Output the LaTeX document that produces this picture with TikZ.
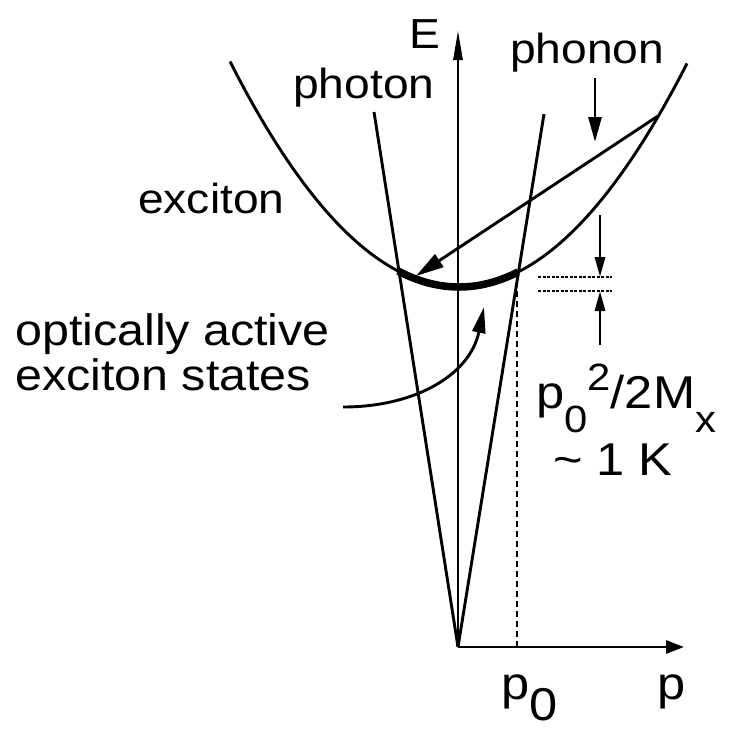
\documentclass[tikz,border=0pt]{standalone}
\usepackage{fontspec}
\setmainfont[FakeStretch=1.1]{Liberation Sans}
\usetikzlibrary{arrows.meta}
\newcommand{\lowpart}[2]{\raisebox{#1}{\fontsize{38}{38}\selectfont #2}}
\begin{document}
\begin{tikzpicture}[x=1pt,y=-1pt,
  ln/.style={line width=2.9pt},
  thin dashed/.style={line width=2.4pt, dash pattern=on 6pt off 4pt},
  fine dashed/.style={line width=2.4pt, dash pattern=on 3pt off 1.5pt},
  axhead/.style={-{Triangle[length=30pt,width=9pt]}},
  phead/.style={-{Triangle[length=18pt,width=13pt]}},
  bighead/.style={-{Triangle[length=28pt,width=15pt]}},
  smallhead/.style={-{Triangle[length=20pt,width=10pt]}},
  lbl/.style={inner sep=0pt, font=\fontsize{42}{45}\selectfont},
]
\useasboundingbox (0,0) rectangle (732,734);

% axes
\coordinate (O) at (458,647);
\coordinate (Etop) at (458,30);
\coordinate (ptip) at (684,647);
\draw[ln,axhead] (O) -- (Etop);
\draw[ln,phead] (O) -- (ptip);

% photon lines
\coordinate (phL) at (374,112);
\coordinate (phR) at (544,114);
\draw[ln] (O) -- (phL);
\draw[ln] (O) -- (phR);

% exciton parabola
\draw[ln] plot[domain=230:687,samples=120] (\x,{287-0.43*((\x-459)/10)^2});
\draw[line width=7.5pt] plot[domain=398:518,samples=40] (\x,{287-0.43*((\x-459)/10)^2});

% dashed p0 line
\coordinate (p0foot) at (517,647);
\coordinate (p0top) at (517,281);
\draw[thin dashed] (p0foot) -- (p0top);

% phonon scattering arrow
\coordinate (phonA) at (658,116);
\coordinate (phonB) at (416,276);
\draw[ln,bighead] (phonA) -- (phonB);

% phonon label arrow
\coordinate (pa1) at (595,78);
\coordinate (pa2) at (595,142);
\draw[ln,-{Triangle[length=25pt,width=13pt]}] (pa1) -- (pa2);

% energy spacing marks
\coordinate (d1a) at (538,277); \coordinate (d1b) at (612,277);
\coordinate (d2a) at (538,291); \coordinate (d2b) at (612,291);
\draw[fine dashed] (d1a) -- (d1b);
\draw[fine dashed] (d2a) -- (d2b);
\coordinate (s1) at (600,215); \coordinate (s1t) at (600,277);
\coordinate (s2) at (600,345); \coordinate (s2t) at (600,291);
\draw[ln,smallhead] (s1) -- (s1t);
\draw[ln,smallhead] (s2) -- (s2t);

% curved arrow
\coordinate (c1) at (343,407);
\coordinate (c2) at (484,307);
\draw[ln,-{Triangle[length=26pt,width=13pt]}] (c1) .. controls (415,407) and (470,375) .. (c2);

% labels
\node[lbl, anchor=base] (lE) at (425,48) {E};
\node[lbl, anchor=base west] (lphonon) at (510,63) {phonon};
\node[lbl, anchor=base west] (lphoton) at (293,98) {photon};
\node[lbl, anchor=base west] (lexc) at (138,213) {exciton};
\node[lbl, anchor=base west, align=left, font=\fontsize{44}{45}\selectfont] (lopt) at (15,390) {optically active\\exciton states};
\node[lbl, anchor=base west, font=\fontsize{46}{46}\selectfont] (lp02) at (536,408) {p\lowpart{-24pt}{0}\lowpart{18pt}{2}/2M\lowpart{-24pt}{x}};
\node[lbl, anchor=base west, font=\fontsize{46}{46}\selectfont] (lK) at (553,475) {\textasciitilde{} 1 K};
\node[lbl, anchor=base west, font=\fontsize{46}{46}\selectfont] (lp0) at (501,699) {p\raisebox{-21pt}{0}};
\node[lbl, anchor=base west, font=\fontsize{46}{46}\selectfont] (lp) at (657,699) {p};
\end{tikzpicture}
\end{document}
